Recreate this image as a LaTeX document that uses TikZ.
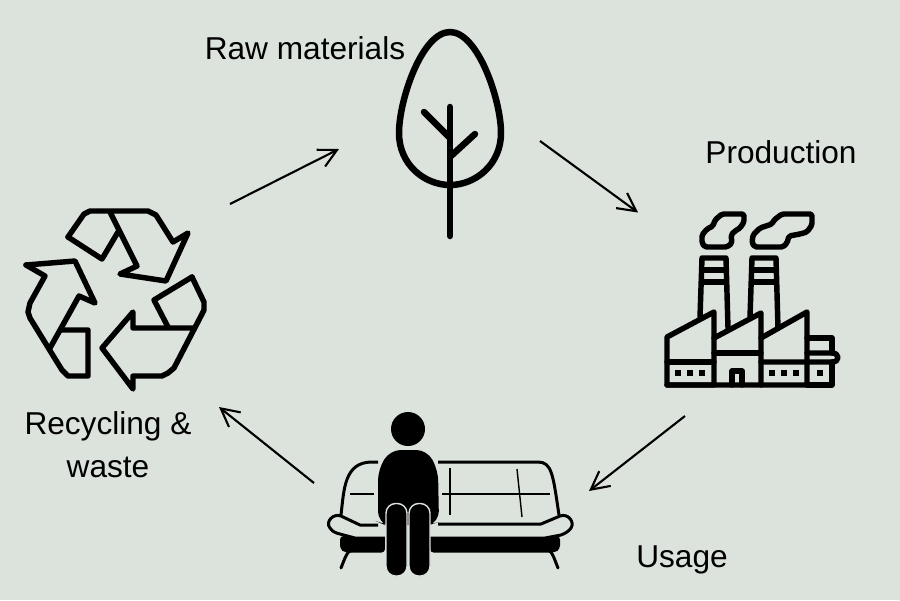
\documentclass[tikz,border=0pt]{standalone}
\usepackage{fontspec}
\setmainfont{Liberation Sans}
\usetikzlibrary{arrows.meta}
\definecolor{paleback}{RGB}{220,226,220}
\tikzset{>={Straight Barb[length=3.6mm,width=4.4mm,angle'=55]}}
\tikzset{
  flowarrow/.style={->,line width=1.2pt,black},
  caption/.style={font=\fontsize{18pt}{24.6pt}\selectfont,text=black,inner sep=0pt,align=center},
  heavy/.style={line width=3.7pt,line join=round,line cap=round,black},
  icon/.style={line width=3.1pt,line join=round,line cap=round,black},
  thinsofa/.style={line width=0.8pt,black},
  sofaline/.style={line width=1.7pt,line join=round,black}
}
\begin{document}
\begin{tikzpicture}[x=0.02cm,y=-0.02cm]
  \useasboundingbox (0,0) rectangle (900,600);
  \fill[paleback] (0,0) rectangle (900,600);

  % Tree
  \draw[heavy] (450,32) .. controls (422,32) and (399,100) .. (399,133)
     .. controls (399,165) and (425,185) .. (450,185)
     .. controls (475,185) and (501,165) .. (501,133)
     .. controls (501,100) and (478,32) .. (450,32) -- cycle;
  \draw[heavy] (450,107)--(450,236);
  \draw[heavy] (424,112)--(449,137);
  \draw[heavy] (475,134)--(451,156);

  % Factory
  \draw[icon] (667,385)--(667,337)--(714,312)--(714,385)--cycle;
  \draw[icon] (714,338)--(761,313)--(761,385);
  \draw[icon] (761,338)--(807,312)--(807,385)--(667,385);
  \draw[icon] (807,385)--(832,385)--(832,362);
  \draw[icon] (667,362)--(714,362);
  \draw[icon] (714,353)--(761,353);
  \draw[icon] (807,338)--(832,338)--(832,353);
  \draw[icon] (807,353)--(832,353) .. controls (840,353) and (840,362) .. (832,362)--(761,362);
  \draw[icon] (732,385)--(732,371)--(742,371)--(742,385);
  \foreach \winx in {678,690,702,772,784,796,820}
    \fill (\winx-2.7,370.3) rectangle (\winx+2.7,375.7);
  % chimneys
  \foreach \chimx in {0,50}{
    \draw[icon] (700+\chimx,317)--(702+\chimx,258)--(726+\chimx,258)--(728+\chimx,328);
    \draw[icon] (702+\chimx,270)--(726+\chimx,270);
    \draw[icon] (702+\chimx,282)--(726+\chimx,282);
  }
  % smoke
  \draw[icon,rounded corners=1pt] (705,247)--(727,247)--(732,243)--(731,235)--(735,231)--(740,228)--(744,222)--(744,214)--(722,214)--(715,220)--(713,226)--(707,229)--(702,235)--(702,243)--cycle;
  \draw[icon,rounded corners=1pt] (755,247)--(783,247)--(787,243)--(789,236)--(800,234)--(807,232)--(812,225)--(812,214)--(782,214)--(774,220)--(772,224)--(760,228)--(753,235)--(752,243)--cycle;

  % Sofa
  \fill[rounded corners=2pt] (340,536)--(340,549)--(345,552.5)--(385,552.5)--(385,536)--cycle;
  \fill[rounded corners=2pt] (430,536)--(560,536)--(560,549)--(555,552.5)--(430,552.5)--cycle;
  \draw[sofaline] (341,515) .. controls (344,490) and (344,462) .. (372,462)--(378,462);
  \draw[sofaline] (438,462)--(538,462) .. controls (552,462) and (553,475) .. (559,515);
  \draw[thinsofa] (350,494)--(374,494);
  \draw[thinsofa] (442,494)--(550,494);
  \draw[thinsofa] (450,468)--(450,515);
  \draw[thinsofa] (517,469)--(522,517);
  \draw[sofaline,fill=paleback] (378,525)--(360,525)--(341,516) .. controls (333,513) and (325,522) .. (330,528)
     .. controls (332,531) and (335,533) .. (340,534)--(355,538)--(385,538);
  \draw[sofaline,fill=paleback] (438,524)--(541,524)--(560,516) .. controls (568,513) and (575,522) .. (571,528)
     .. controls (569,531) and (566,533) .. (561,535)--(545,538)--(430,538);
  \draw[sofaline,line cap=round] (341,568) .. controls (345,558) and (347,551) .. (352,550);
  \draw[sofaline,line cap=round] (558,568) .. controls (554,558) and (552,551) .. (548,550);

  % Person on the sofa
  \fill (408,429) circle (17);
  \fill[rounded corners=6pt] (390,450)--(427,450)--(438,470)--(439,522)--(429,525)--(385,525)--(378,522)--(378,470)--cycle;
  \foreach \legx in {387,410}
    \filldraw[draw=paleback,line width=0.8pt,fill=black,rounded corners=5.5pt] (\legx-1,503.5) rectangle (\legx+20,576);

  % Recycling symbol
  \draw[icon] (68,237)--(84,214)--(90,211)--(148,211)--(156,215)--(173,242)--(188,233)--(166,281)--(120,274)--(137,266)--(110,212);
  \draw[icon] (68,237)--(102,259)--(118,232);
  \draw[icon] (192,277)--(154,300)--(168,327);
  \draw[icon] (192,277)--(204,302)--(204,310)--(202,314)--(174,368)--(168,373)--(162,376)--(133,376)--(133,389)--(102,348)--(133,312)--(133,328)--(193,328);
  \draw[icon] (26,265)--(75,261)--(95,303)--(79,296)--(50,348);
  \draw[icon] (26,265)--(45,276)--(30,303)--(28,312)--(30,318)--(57,362)--(62,370)--(68,376)--(88,376)--(88,330)--(62,330);

  % Labels
  \node[caption] (rawlabel) at (305,48) {Raw materials};
  \node[caption] (prodlabel) at (781,152) {Production};
  \node[caption] (uselabel) at (682,559.5) {Usage};
  \node[caption] (wastelabel) at (108,444.5) {Recycling \&\\ waste};

  % Cycle arrows
  \coordinate (wasteout) at (230,204);
  \coordinate (rawin) at (339,149);
  \coordinate (rawout) at (540,141);
  \coordinate (prodin) at (638,212.5);
  \coordinate (prodout) at (685,416);
  \coordinate (usein) at (589,491);
  \coordinate (useout) at (314,483);
  \coordinate (wastein) at (219,407);
  \draw[flowarrow] (wasteout)--(rawin);
  \draw[flowarrow] (rawout)--(prodin);
  \draw[flowarrow] (prodout)--(usein);
  \draw[flowarrow] (useout)--(wastein);
\end{tikzpicture}
\end{document}
